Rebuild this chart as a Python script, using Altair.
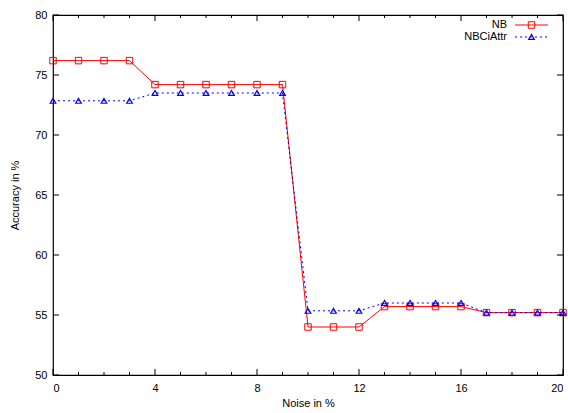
import altair as alt
import pandas as pd

noise = list(range(0, 21))
nb = [76.2, 76.2, 76.2, 76.2, 74.2, 74.2, 74.2, 74.2, 74.2, 74.2,
      54.0, 54.0, 54.0, 55.7, 55.7, 55.7, 55.7, 55.2, 55.2, 55.2, 55.2]
nbci = [72.85, 72.85, 72.85, 72.85, 73.5, 73.5, 73.5, 73.5, 73.5, 73.5,
        55.35, 55.35, 55.35, 56.0, 56.0, 56.0, 56.0, 55.2, 55.2, 55.2, 55.2]
x_major = [0, 4, 8, 12, 16, 20]
x_minor = [v for v in range(0, 21) if v % 4 != 0]
y_major = [50, 55, 60, 65, 70, 75, 80]
series_names = ["NB", "NBCiAttr"]

W, H = 510, 360
FONT = "Liberation Sans"

df = pd.DataFrame({"x": noise, "nb": nb, "nbci": nbci})

xs = alt.Scale(domain=[0, 20], nice=False, zero=False)
ys = alt.Scale(domain=[50, 80], nice=False, zero=False)

xax = alt.Axis(values=x_major, tickSize=0, domain=False, grid=False, labelPadding=7,
               labelFontSize=11, labelFont=FONT, labelColor="black",
               title="Noise in %", titleFont=FONT, titleFontSize=11,
               titleFontWeight="normal", titlePadding=4, titleColor="black")
yax = alt.Axis(values=y_major, tickSize=0, domain=False, grid=False, labelPadding=6,
               labelFontSize=11, labelFont=FONT, labelColor="black",
               title="Accuracy in %", titleFont=FONT, titleFontSize=11,
               titleFontWeight="normal", titlePadding=14, titleColor="black")

base = alt.Chart(df)

nb_line = base.mark_line(color="#ff0000", strokeWidth=1).encode(
    x=alt.X("x:Q", scale=xs, axis=xax), y=alt.Y("nb:Q", scale=ys, axis=yax))
nb_pts = base.mark_point(shape="square", color="#ff0000", filled=False, size=42, strokeWidth=1, opacity=1).encode(
    x=alt.X("x:Q", scale=xs), y=alt.Y("nb:Q", scale=ys))
ci_line = base.mark_line(color="#0000ff", strokeWidth=1, strokeDash=[2, 3]).encode(
    x=alt.X("x:Q", scale=xs), y=alt.Y("nbci:Q", scale=ys))
ci_pts = base.mark_point(shape="triangle-up", color="#0000ff", filled=False, size=32, strokeWidth=1.2, opacity=1).encode(
    x=alt.X("x:Q", scale=xs), y=alt.Y("nbci:Q", scale=ys))

# tick marks (inward, mirrored)
xmaj = pd.DataFrame({"t": x_major})
xmin = pd.DataFrame({"t": x_minor})
ymaj = pd.DataFrame({"t": y_major})
tick_layers = []
for d, ln in ((xmaj, 6), (xmin, 3)):
    tick_layers.append(alt.Chart(d).mark_rule(color="black", strokeWidth=1).encode(
        x=alt.X("t:Q", scale=xs), y=alt.value(H), y2=alt.value(H - ln)))
    tick_layers.append(alt.Chart(d).mark_rule(color="black", strokeWidth=1).encode(
        x=alt.X("t:Q", scale=xs), y=alt.value(0), y2=alt.value(ln)))
tick_layers.append(alt.Chart(ymaj).mark_rule(color="black", strokeWidth=1).encode(
    y=alt.Y("t:Q", scale=ys), x=alt.value(0), x2=alt.value(6)))
tick_layers.append(alt.Chart(ymaj).mark_rule(color="black", strokeWidth=1).encode(
    y=alt.Y("t:Q", scale=ys), x=alt.value(W), x2=alt.value(W - 6)))

# manual legend (gnuplot style)
one = pd.DataFrame({"n": [series_names[0]]})
two = pd.DataFrame({"n": [series_names[1]]})
leg = [
    alt.Chart(one).mark_text(align="right", baseline="middle", font=FONT, fontSize=11, color="black").encode(
        text="n:N", x=alt.value(454), y=alt.value(10)),
    alt.Chart(one).mark_rule(color="#ff0000", strokeWidth=1).encode(
        x=alt.value(462), x2=alt.value(495), y=alt.value(10)),
    alt.Chart(one).mark_point(shape="square", color="#ff0000", filled=False, size=42, strokeWidth=1, opacity=1).encode(
        x=alt.value(478.5), y=alt.value(10)),
    alt.Chart(two).mark_text(align="right", baseline="middle", font=FONT, fontSize=11, color="black").encode(
        text="n:N", x=alt.value(454), y=alt.value(22)),
    alt.Chart(two).mark_rule(color="#0000ff", strokeWidth=1, strokeDash=[2, 3]).encode(
        x=alt.value(462), x2=alt.value(495), y=alt.value(22)),
    alt.Chart(two).mark_point(shape="triangle-up", color="#0000ff", filled=False, size=32, strokeWidth=1.2, opacity=1).encode(
        x=alt.value(478.5), y=alt.value(22)),
]

chart = alt.layer(nb_line, nb_pts, ci_line, ci_pts, *tick_layers, *leg).properties(
    width=W, height=H,
    autosize=alt.AutoSizeParams(type="none"),
    padding={"left": 53, "top": 15, "right": 5, "bottom": 38},
    background="white",
).configure_view(stroke="black", strokeWidth=1.2)

chart.save("out.html", embed_options={"renderer": "svg", "actions": False})
